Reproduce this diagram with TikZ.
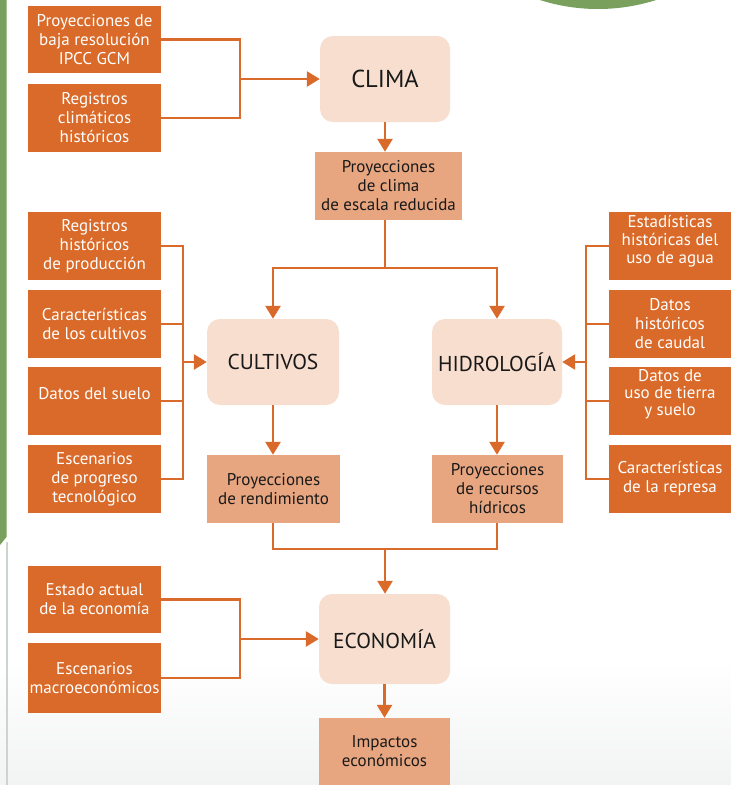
\documentclass[tikz,border=0pt]{standalone}
\usepackage{fontspec}
\setmainfont{PT Sans}
\usetikzlibrary{arrows.meta}
\definecolor{dk}{RGB}{217,106,41}
\definecolor{md}{RGB}{232,166,128}
\definecolor{lt}{RGB}{247,222,206}
\definecolor{gr}{RGB}{121,160,92}
\definecolor{txt}{RGB}{25,25,25}
\definecolor{bgg}{RGB}{242,243,243}
\definecolor{edge}{RGB}{205,212,205}
\tikzset{
  inbox/.style={fill=dk, text=white, minimum width=133pt, minimum height=67pt, inner sep=0pt, align=center, font=\fontsize{17}{19}\selectfont},
  rinbox/.style={inbox, minimum width=122pt},
  midbox/.style={fill=md, text=txt, inner sep=0pt, align=center, font=\fontsize{17}{19}\selectfont},
  bigbox/.style={fill=lt, text=txt, rounded corners=13pt, inner sep=0pt, font=\fontsize{21.5}{26}\selectfont},
  conn/.style={draw=dk, line width=2.6pt},
  arr/.style={conn, -{Triangle[length=13pt,width=15pt]}}
}
\newcommand{\up}[2]{\raisebox{#1}[\height][\depth]{\begin{tabular}{@{}c@{}}#2\end{tabular}}}
\begin{document}
\begin{tikzpicture}[x=1pt,y=-1pt]
\useasboundingbox (0,0) rectangle (731,785);
% background
\fill[white] (0,0) rectangle (731,785);
\shade[top color=white, bottom color=bgg] (0,660) rectangle (731,785);
\fill[gr] (598,-182) circle (191);
\fill[gr] (0,0) -- (6.5,0) -- (6.5,537) -- (0,545) -- cycle;
\draw[edge, line width=1.3pt] (7,542) -- (7,785);

% nodes
\node[inbox] (c1) at (94.5,39.5) {Proyecciones de\\baja resolución\\IPCC GCM};
\node[inbox, minimum height=68pt] (c2) at (94.5,118) {Registros\\climáticos\\históricos};
\node[bigbox, minimum width=130pt, minimum height=86pt, font=\fontsize{24.5}{28}\selectfont] (clima) at (385,79) {CLIMA};
\node[midbox, minimum width=147pt, minimum height=68pt] (pc) at (388.5,186) {Proyecciones\\de clima\\de escala reducida};

\node[bigbox, minimum width=132pt, minimum height=86pt] (cult) at (273,362) {CULTIVOS};
\node[bigbox, minimum width=130pt, minimum height=86pt] (hidro) at (497,362) {HIDROLOGÍA};

\node[inbox, minimum height=68pt] (la) at (94.5,246) {Registros\\históricos\\de producción};
\node[inbox, minimum height=68pt] (lb) at (94.5,324) {Características\\de los cultivos};
\node[inbox, minimum height=68pt] (lc) at (94.5,401) {\up{5pt}{Datos del suelo}};
\node[inbox, minimum height=68pt] (ld) at (94.5,479) {Escenarios\\de progreso\\tecnológico};

\node[rinbox, minimum height=68pt, font=\fontsize{17}{18}\selectfont] (ra) at (670,246) {\up{4pt}{Estadísticas\\históricas del\\uso de agua}};
\node[rinbox, minimum height=68pt] (rb) at (670,324) {Datos\\históricos\\de caudal};
\node[rinbox, minimum height=68pt, font=\fontsize{17}{17}\selectfont] (rc) at (670,401) {\up{6pt}{Datos de\\uso de tierra\\y suelo}};
\node[rinbox, minimum height=68pt] (rd) at (670,479) {Características\\de la represa};

\node[midbox, minimum width=133pt, minimum height=68pt] (pr) at (273.5,489) {Proyecciones\\de rendimiento};
\node[midbox, minimum width=131pt, minimum height=68pt] (ph) at (497.5,489) {Proyecciones\\de recursos\\hídricos};

\node[inbox] (e1) at (94.5,599.5) {Estado actual\\de la economía};
\node[inbox, minimum height=70pt] (e2) at (94.5,678) {Escenarios\\macroeconómicos};
\node[bigbox, minimum width=131pt, minimum height=90pt] (econ) at (384.5,639) {ECONOMÍA};
\node[midbox, minimum width=131pt, minimum height=67pt] (imp) at (384.5,751.5) {Impactos\\económicos};

% junction coordinates
\coordinate (jc) at (240,79);
\coordinate (sp) at (385,268);
\coordinate (jl) at (183,362);
\coordinate (jr) at (586,362);
\coordinate (jm) at (385,549);
\coordinate (je) at (240,639);

% connectors
\draw[conn] (c1.east) -| (jc) |- (c2.east);
\draw[arr] (jc) -- (clima.west);
\draw[arr] (clima.south) -- (clima.south |- pc.north);
\draw[conn] (sp |- pc.south) -- (sp);
\draw[arr] (sp) -| (cult.north);
\draw[arr] (sp) -| (hidro.north);

\draw[conn] (la.east) -| (jl) |- (ld.east);
\draw[conn] (lb.east) -- (lb.east -| jl);
\draw[conn] (lc.east) -- (lc.east -| jl);
\draw[arr] (jl) -- (cult.west);

\draw[conn] (ra.west) -| (jr) |- (rd.west);
\draw[conn] (rb.west) -- (rb.west -| jr);
\draw[conn] (rc.west) -- (rc.west -| jr);
\draw[arr] (jr) -- (hidro.east);

\draw[arr] (cult.south) -- (pr.north -| cult.south);
\draw[arr] (hidro.south) -- (ph.north -| hidro.south);
\draw[conn] (pr.south -| cult.south) |- (jm);
\draw[conn] (ph.south -| hidro.south) |- (jm);
\draw[arr] (jm) -- (econ.north -| jm);

\draw[conn] (e1.east) -| (je) |- (e2.east);
\draw[arr] (je) -- (econ.west);
\draw[arr] (econ.south) -- (imp.north);
\end{tikzpicture}
\end{document}
